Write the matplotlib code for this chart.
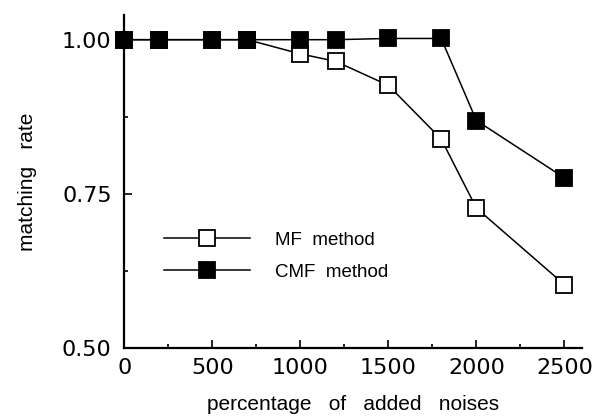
import numpy as np
import matplotlib
matplotlib.use("Agg")
import matplotlib.pyplot as plt
from matplotlib.ticker import MultipleLocator

plt.rcParams['font.family'] = ['Liberation Sans', 'DejaVu Sans']

noise = [0, 200, 500, 700, 1000, 1200, 1500, 1800, 2000, 2500]
mf = [1.00, 1.00, 1.00, 1.00, 0.977, 0.965, 0.926, 0.839, 0.727, 0.603]
cmf = [1.00, 1.00, 1.00, 1.00, 1.00, 1.00, 1.002, 1.002, 0.869, 0.776]

fig = plt.figure(figsize=(5.97, 4.17), dpi=100)
ax = fig.add_axes([0.208, 0.165, 0.767, 0.799])

ax.plot(noise, mf, '-', color='black', lw=1.1, marker='s', ms=11,
        mfc='white', mec='black', mew=1.3, label='MF  method', clip_on=False)
ax.plot(noise, cmf, '-', color='black', lw=1.1, marker='s', ms=11,
        mfc='black', mec='black', mew=1.3, label='CMF  method', clip_on=False)

ax.set_xlim(0, 2600)
ax.set_ylim(0.5, 1.04)
ax.spines['top'].set_visible(False)
ax.spines['right'].set_visible(False)
ax.spines['left'].set_linewidth(1.6)
ax.spines['bottom'].set_linewidth(1.6)

ax.set_xticks([0, 500, 1000, 1500, 2000, 2500])
ax.set_yticks([0.50, 0.75, 1.00])
ax.set_yticklabels(['0.50', '0.75', '1.00'])
ax.xaxis.set_minor_locator(MultipleLocator(250))
ax.yaxis.set_minor_locator(MultipleLocator(0.125))
ax.tick_params(which='both', direction='in', width=1.2)
ax.tick_params(which='major', length=6)
ax.tick_params(which='minor', length=3)
ax.tick_params(axis='x', pad=7)
ax.tick_params(axis='y', pad=9)
for lbl in ax.get_xticklabels() + ax.get_yticklabels():
    lbl.set_fontfamily('DejaVu Sans')
    lbl.set_fontsize(16)

ax.set_xlabel('percentage   of   added   noises', fontsize=15, labelpad=12)
ax.set_ylabel('matching   rate', fontsize=15, labelpad=18)

ax.legend(loc='upper left', bbox_to_anchor=(0.05, 0.40), frameon=False,
          handlelength=4.6, labelspacing=0.8, handletextpad=1.3,
          prop={'size': 13.5})

fig.savefig('out.png', dpi=100)
